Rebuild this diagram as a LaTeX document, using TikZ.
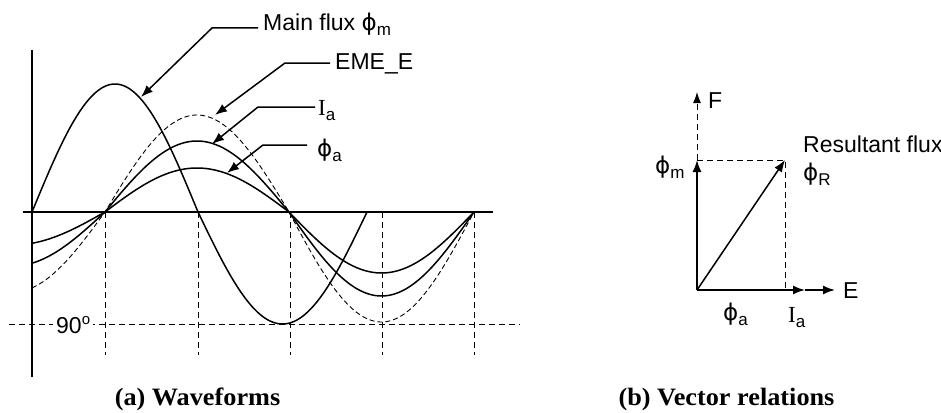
\documentclass[tikz,border=0pt]{standalone}
\usepackage{fontspec}
\setmainfont{Liberation Sans}
\newfontfamily\phif{DejaVu Sans}
\newfontfamily\serf{Liberation Serif}
\newfontfamily\capf[FakeStretch=1.05]{Liberation Serif}
\usetikzlibrary{arrows.meta}
\newcommand{\sbs}[1]{\raisebox{-5pt}{\fontsize{17}{17}\selectfont #1}}
\newcommand{\ph}{{\phif ϕ}}
\begin{document}
\begin{tikzpicture}[x=1pt,y=-1pt,font=\fontsize{23}{26}\selectfont,
  axisline/.style={line width=1.7pt},
  curve/.style={line width=1.5pt},
  ecurve/.style={line width=0.9pt,dash pattern=on 5pt off 3pt},
  guide/.style={line width=1pt,dash pattern=on 6pt off 4pt},
  lead/.style={line width=1.5pt,-{Latex[length=12pt,width=9pt]}},
  vec/.style={line width=1.5pt,-{Latex[length=12pt,width=9pt]}},
  lbl/.style={inner sep=0pt,anchor=base west},
  capt/.style={font=\capf\bfseries\fontsize{25}{27}\selectfont,inner sep=0pt}]
\useasboundingbox (0,0) rectangle (941,412);
\fill[white] (0,0) rectangle (941,412);
% guide lines
\foreach \gx in {105,198,290,382,474} \draw[guide] (\gx,212) -- (\gx,355);
\draw[guide] (9,324) -- (520,324);
\node[lbl,fill=white,inner sep=3pt] (deg) at (53,333) {90\raisebox{9pt}{\fontsize{15}{15}\selectfont o}};
% axes
\draw[axisline] (32,50) -- (32,377);
\draw[axisline] (23,212) -- (493,212);
% main flux
\draw[curve] plot[domain=32:198,samples=80] (\x,{212-128*sin((\x-32)/166*180)})
  -- plot[domain=198:367,samples=80] (\x,{212+112*sin((\x-198)/169*180)});
% EMF
\draw[ecurve] plot[domain=32:105,samples=40] (\x,{212-80*sin((\x-105)/184*180)})
  -- plot[domain=105:289,samples=80] (\x,{212-97*sin((\x-105)/184*180)})
  -- plot[domain=289:474,samples=80] (\x,{212+110*sin((\x-289)/185*180)});
% Ia
\draw[curve] plot[domain=32:105,samples=40] (\x,{212-54*sin((\x-105)/184*180)})
  -- plot[domain=105:289,samples=80] (\x,{212-71*sin((\x-105)/184*180)})
  -- plot[domain=289:474,samples=80] (\x,{212+84*sin((\x-289)/185*180)});
% phi a
\draw[curve] plot[domain=32:105,samples=40] (\x,{212-33*sin((\x-105)/184*180)})
  -- plot[domain=105:289,samples=80] (\x,{212-44*sin((\x-105)/184*180)})
  -- plot[domain=289:474,samples=80] (\x,{212+61*sin((\x-289)/185*180)});
% labels with leaders
\node[lbl] (Lm) at (263,31) {Main flux \ph\sbs{m}};
\coordinate (Bm) at (212,28); \coordinate (Tm) at (141,97);
\draw[lead] ([xshift=-5pt,yshift=3pt]Lm.base west) -- (Bm) -- (Tm);
\node[lbl] (LE) at (335,70) {EME\_E};
\coordinate (BE) at (285,63); \coordinate (TE) at (215,115);
\draw[lead] ([xshift=-5pt,yshift=7pt]LE.base west) -- (BE) -- (TE);
\node[lbl] (LI) at (318,115) {{\serf I}\sbs{a}};
\coordinate (BI) at (258,107); \coordinate (TI) at (212,144);
\draw[lead] ([xshift=-3pt,yshift=8pt]LI.base west) -- (BI) -- (TI);
\node[lbl] (LA) at (317,156) {\ph\sbs{a}};
\coordinate (BA) at (263,145); \coordinate (TA) at (227,173);
\draw[lead] ([xshift=-10pt,yshift=11pt]LA.base west) -- (BA) -- (TA);
% vector diagram
\coordinate (O) at (697,290);
\coordinate (Pm) at (697,160);
\coordinate (Pf) at (697,92);
\coordinate (Pi) at (805,290);
\coordinate (Pe) at (835,290);
\coordinate (Pr) at (785,160);
\draw[guide] (Pm) -- (Pr) -- (Pr |- O);
\draw[guide,-{Latex[length=11pt,width=8pt]}] (Pm) -- (Pf);
\draw[vec] (O) -- (Pm);
\draw[vec] (O) -- (Pi);
\draw[vec] (Pi) -- (Pe);
\draw[vec] (O) -- (Pr);
\node[lbl] (F) at (708,108) {F};
\node[lbl] (E) at (843,298) {E};
\node[lbl] (Lpm) at (655,173) {\ph\sbs{m}};
\node[lbl] (Lres) at (803,152) {Resultant flux};
\node[lbl] (Lpr) at (803,180) {\ph\sbs{R}};
\node[lbl] (Lpa) at (723,320) {\ph\sbs{a}};
\node[lbl] (Lia) at (788,322) {{\serf I}\sbs{a}};
% captions
\node[capt] (capA) at (197.5,399) {(a) Waveforms};
\node[capt] (capB) at (726.5,399) {(b) Vector relations};
\end{tikzpicture}
\end{document}
